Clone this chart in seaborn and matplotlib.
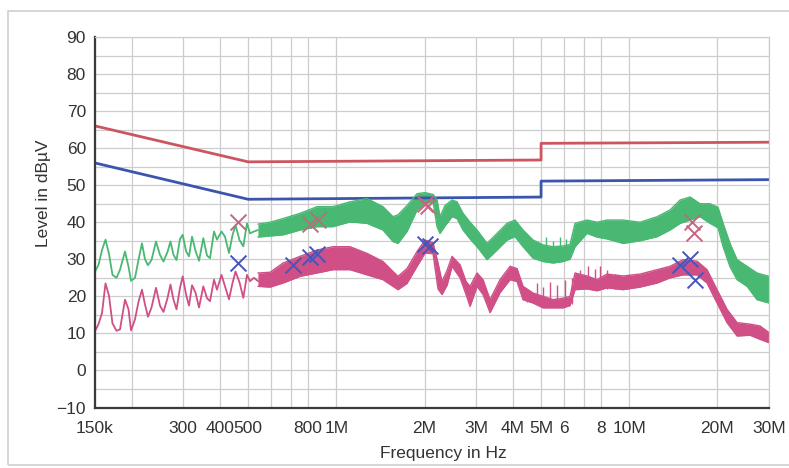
import matplotlib
matplotlib.use("Agg")
import matplotlib.pyplot as plt
from matplotlib.patches import Rectangle
from matplotlib.ticker import FixedLocator, NullLocator, MultipleLocator, FixedFormatter
import seaborn as sns

# ---------------- limit lines (Hz, dBuV) ----------------
qp_limit_f = [150e3, 500e3, 5e6, 5e6, 30e6]
qp_limit_db = [66.0, 56.3, 56.8, 61.3, 61.6]
av_limit_f = [150e3, 500e3, 5e6, 5e6, 30e6]
av_limit_db = [56.0, 46.2, 46.8, 51.1, 51.5]

# ---------------- low-frequency part (clean traces), kHz ----------------
lf_freq_khz = [150.0, 154.2, 158.5, 162.9, 167.4, 172.1, 177.7, 182.6, 189.9, 195.2,
               199.1, 205.4, 211.1, 217.0, 222.2, 227.5, 233.9, 242.3, 250.0, 257.0,
               265.2, 271.5, 278.0, 284.7, 292.6, 298.9, 306.8, 314.1, 321.6, 330.5,
               339.8, 351.4, 361.8, 370.4, 382.3, 391.4, 405.5, 416.8, 430.1, 442.1,
               452.6, 467.1, 481.3, 495.5, 507.3, 523.4, 540.3]
peak_lf_db = [26.7, 28.5, 32.5, 35.3, 31.5, 25.8, 25.0, 27.2, 32.1, 28.0,
              24.2, 25.0, 29.8, 34.3, 30.0, 28.4, 29.8, 34.8, 31.2, 29.4,
              32.0, 34.8, 31.2, 29.8, 35.5, 36.6, 32.2, 30.8, 36.1, 32.3,
              29.6, 35.7, 31.0, 30.3, 37.5, 35.3, 37.5, 36.1, 31.7, 36.5,
              39.2, 35.2, 33.5, 39.7, 37.0, 37.5, 37.9]
avg_lf_db = [10.6, 12.5, 15.5, 23.5, 20.2, 12.7, 10.7, 11.1, 19.1, 16.5,
             10.8, 13.8, 18.5, 21.8, 17.8, 14.5, 17.0, 22.3, 17.5, 15.8,
             19.5, 23.2, 19.1, 16.5, 22.3, 25.4, 20.5, 17.5, 23.0, 21.0,
             17.0, 22.7, 19.5, 18.7, 24.5, 21.8, 25.8, 22.7, 19.2, 23.6,
             26.7, 23.8, 19.6, 25.8, 24.1, 25.0, 24.1]

# ---------------- high-frequency part (dense noisy band: lower / upper edge), MHz ----------------
peak_band_mhz = [0.540, 0.594, 0.658, 0.752, 0.859, 0.974, 1.113, 1.273, 1.443, 1.561,
                 1.624, 1.743, 1.886, 2.008, 2.139, 2.207, 2.259, 2.350, 2.483, 2.583,
                 2.708, 2.861, 3.023, 3.269, 3.537, 3.826, 4.074, 4.339, 4.693, 5.077,
                 5.493, 5.941, 6.277, 6.529, 7.176, 7.761, 8.397, 9.525, 10.88, 12.45,
                 13.78, 14.91, 16.13, 17.45, 18.87, 20.1, 20.91, 22.08, 23.34, 25.25,
                 27.3, 30.0]
peak_band_lo = [36.0, 36.3, 36.6, 37.9, 38.8, 38.8, 40.1, 39.7, 37.9, 34.8,
                34.3, 37.5, 43.3, 45.0, 45.5, 38.8, 37.0, 39.0, 41.5, 41.0,
                37.9, 35.5, 33.4, 29.9, 32.5, 35.2, 36.1, 33.4, 30.3, 29.4,
                29.0, 29.4, 30.0, 33.4, 37.0, 36.0, 35.5, 34.3, 35.0, 36.1,
                37.9, 39.7, 40.6, 41.5, 39.7, 38.5, 33.4, 28.0, 24.5, 22.7,
                19.1, 18.2]
peak_band_hi = [39.5, 40.0, 41.0, 42.4, 44.2, 44.2, 45.5, 46.4, 44.2, 41.5,
                42.0, 44.5, 47.7, 48.0, 47.5, 46.0, 41.5, 44.5, 46.0, 45.5,
                42.4, 40.0, 37.9, 34.3, 37.0, 39.7, 40.6, 37.9, 35.2, 33.9,
                33.4, 33.6, 34.0, 39.7, 40.6, 40.0, 40.6, 40.6, 40.0, 41.5,
                43.3, 46.0, 46.8, 45.0, 45.0, 44.0, 39.7, 34.3, 29.9, 28.1,
                26.3, 25.4]

avg_band_mhz = [0.540, 0.594, 0.658, 0.752, 0.859, 0.974, 1.113, 1.273, 1.443, 1.561,
                1.624, 1.743, 1.886, 2.008, 2.139, 2.224, 2.295, 2.388, 2.483, 2.645,
                2.772, 2.861, 3.023, 3.168, 3.348, 3.621, 3.918, 4.139, 4.339, 4.693,
                5.077, 5.493, 5.941, 6.277, 6.529, 7.176, 7.761, 8.397, 9.525, 10.88,
                12.45, 13.78, 15.26, 17.04, 18.43, 19.94, 21.57, 23.34, 25.85, 27.96,
                30.0]
avg_band_lo = [22.7, 22.5, 23.6, 25.4, 26.3, 27.2, 27.2, 25.8, 24.5, 22.7,
               21.8, 23.5, 28.1, 31.7, 31.5, 22.0, 20.5, 23.0, 28.1, 25.0,
               20.5, 17.3, 22.7, 20.5, 15.6, 21.0, 24.5, 24.0, 19.1, 18.2,
               16.9, 16.9, 16.9, 17.5, 21.8, 22.0, 21.5, 22.3, 21.8, 22.5,
               23.6, 25.0, 25.8, 25.8, 23.6, 18.2, 12.9, 9.3, 9.5, 8.4,
               7.5]
avg_band_hi = [26.3, 26.5, 29.0, 30.8, 32.5, 33.4, 33.4, 31.6, 29.4, 26.7,
               25.4, 27.5, 32.1, 35.2, 34.5, 29.0, 24.0, 27.0, 30.8, 28.5,
               24.0, 22.7, 26.3, 24.5, 19.1, 24.5, 28.1, 27.5, 22.7, 20.9,
               20.0, 19.1, 19.5, 20.0, 26.3, 25.5, 24.5, 26.0, 25.5, 26.0,
               27.2, 28.1, 29.9, 29.5, 27.2, 21.8, 16.5, 12.9, 12.5, 12.0,
               10.2]

# spikes standing out of the average band
avg_spike_mhz = [4.477, 4.842, 5.077, 5.365, 5.670, 6.036, 6.377, 6.792, 7.233, 7.641, 7.947, 8.397, 8.943]
avg_spike_bottom = [18.5, 18.0, 17.5, 17.5, 17.5, 17.5, 18.0, 22.0, 22.0, 22.0, 22.0, 22.0, 22.0]
avg_spike_top = [22.0, 23.6, 22.5, 24.0, 23.0, 24.5, 25.0, 27.0, 28.1, 27.5, 28.1, 27.0, 26.0]
peak_spike_mhz = [5.2, 5.49, 5.8, 6.1]
peak_spike_bottom = [33.0, 33.0, 33.0, 33.0]
peak_spike_top = [36.0, 35.0, 36.0, 35.5]

# ---------------- final measurement markers ----------------
qp_mark_f = [463e3, 813e3, 865e3, 2.008e6, 2.055e6, 16.4e6, 16.6e6]
qp_mark_db = [40.0, 39.5, 40.5, 45.0, 44.5, 40.0, 37.0]
av_mark_f = [463e3, 711e3, 813e3, 859e3, 2.0e6, 2.09e6, 14.9e6, 16.1e6, 16.75e6]
av_mark_db = [29.0, 28.5, 30.5, 31.5, 34.0, 33.5, 28.5, 30.0, 24.5]

# ---------------- axes ----------------
x_tick_f = [150e3, 200e3, 300e3, 400e3, 500e3, 600e3, 700e3, 800e3, 1e6,
            2e6, 3e6, 4e6, 5e6, 6e6, 7e6, 8e6, 10e6, 20e6, 30e6]
x_tick_labels = ["150k", "", "300", "400", "500", "", "", "800", "1M",
                 "2M", "3M", "4M", "5M", "6", "", "8", "10M", "20M", "30M"]
y_ticks = [-10, 0, 10, 20, 30, 40, 50, 60, 70, 80, 90]

GREEN = "#48b872"
PINK = "#cf4f86"
RED = "#cc5560"
BLUE = "#3b55ad"
MK_PINK = "#c96480"
MK_BLUE = "#4656b8"

sns.set_style("white")
plt.rcParams["font.family"] = ["Liberation Sans", "DejaVu Sans"]

fig, ax = plt.subplots(figsize=(7.89, 4.68), dpi=100)
fig.subplots_adjust(left=95 / 789, right=769 / 789, bottom=(468 - 407.5) / 468, top=(468 - 37) / 468)

ax.set_xscale("log")
ax.set_xlim(150e3, 30e6)
ax.set_ylim(-10, 90)

# grid
ax.xaxis.set_major_locator(FixedLocator(x_tick_f))
ax.xaxis.set_major_formatter(FixedFormatter(x_tick_labels))
ax.xaxis.set_minor_locator(NullLocator())
ax.yaxis.set_major_locator(FixedLocator(y_ticks))
ax.yaxis.set_minor_locator(MultipleLocator(5))
ax.grid(True, which="major", axis="x", color="#cdcdcd", linewidth=0.9)
ax.grid(True, which="both", axis="y", color="#cdcdcd", linewidth=0.9)
ax.set_axisbelow(True)

# limits
sns.lineplot(x=qp_limit_f, y=qp_limit_db, ax=ax, color=RED, linewidth=2.0, sort=False, estimator=None)
sns.lineplot(x=av_limit_f, y=av_limit_db, ax=ax, color=BLUE, linewidth=2.0, sort=False, estimator=None)

# traces: low-frequency clean part
lf_f = [v * 1e3 for v in lf_freq_khz]
sns.lineplot(x=lf_f, y=peak_lf_db, ax=ax, color=GREEN, linewidth=1.3, sort=False, estimator=None)
sns.lineplot(x=lf_f, y=avg_lf_db, ax=ax, color=PINK, linewidth=1.3, sort=False, estimator=None)

# traces: dense band part
pf = [v * 1e6 for v in peak_band_mhz]
af = [v * 1e6 for v in avg_band_mhz]
ax.fill_between(pf, peak_band_lo, peak_band_hi, color=GREEN, linewidth=0)
sns.lineplot(x=pf, y=peak_band_lo, ax=ax, color=GREEN, linewidth=1.0, sort=False, estimator=None)
sns.lineplot(x=pf, y=peak_band_hi, ax=ax, color=GREEN, linewidth=1.0, sort=False, estimator=None)
ax.fill_between(af, avg_band_lo, avg_band_hi, color=PINK, linewidth=0)
sns.lineplot(x=af, y=avg_band_lo, ax=ax, color=PINK, linewidth=1.0, sort=False, estimator=None)
sns.lineplot(x=af, y=avg_band_hi, ax=ax, color=PINK, linewidth=1.0, sort=False, estimator=None)
ax.vlines([v * 1e6 for v in avg_spike_mhz], avg_spike_bottom, avg_spike_top, color=PINK, linewidth=1.0)
ax.vlines([v * 1e6 for v in peak_spike_mhz], peak_spike_bottom, peak_spike_top, color=GREEN, linewidth=1.0)

# markers
sns.scatterplot(x=qp_mark_f, y=qp_mark_db, ax=ax, marker="x", s=130, color=MK_PINK, linewidth=1.4, zorder=5)
sns.scatterplot(x=av_mark_f, y=av_mark_db, ax=ax, marker="x", s=130, color=MK_BLUE, linewidth=1.4, zorder=5)

# spines and ticks
for side in ["left", "bottom"]:
    ax.spines[side].set_color("#3a3a3a")
    ax.spines[side].set_linewidth(1.6)
for side in ["top", "right"]:
    ax.spines[side].set_color("#cdcdcd")
    ax.spines[side].set_linewidth(0.9)
ax.tick_params(axis="both", which="both", direction="inout", color="#3a3a3a", width=1.4,
               labelcolor="#333333", labelsize=12.5)
ax.tick_params(axis="x", which="major", length=9, pad=5)
ax.tick_params(axis="y", which="major", length=9, pad=2)
ax.tick_params(axis="y", which="minor", length=9)

ax.set_xlabel("Frequency in Hz", fontsize=12.5, color="#333333")
ax.set_ylabel("Level in dBµV", fontsize=12.5, color="#333333")
ax.xaxis.set_label_coords((443 - 95) / 674, -0.105)
ax.yaxis.set_label_coords(-0.065, 0.577)

# scan frame around the figure
fig.add_artist(Rectangle((8 / 789, 3 / 468), 1.0, (465 - 11) / 468, transform=fig.transFigure,
                         fill=False, edgecolor="#d0d0d0", linewidth=1.2))

fig.savefig("out.png", dpi=100)
